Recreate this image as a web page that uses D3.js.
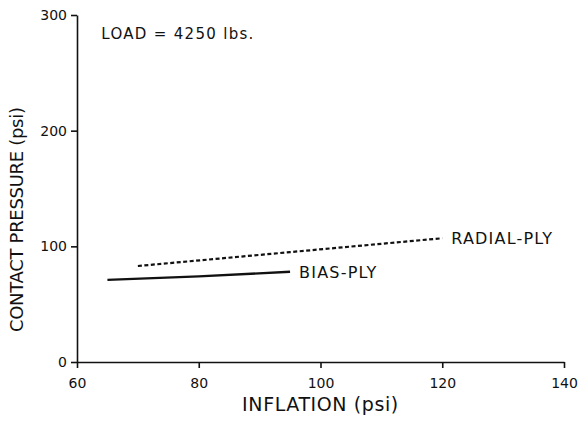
<!DOCTYPE html>
<html>
<head>
<meta charset="utf-8">
<script src="https://cdn.jsdelivr.net/npm/d3@7"></script>
<style>
  body { margin: 0; background: #fff; }
  text { font-family: "DejaVu Sans", "Liberation Sans", sans-serif; fill: #111; }
  .axis path, .axis line { stroke: #111; stroke-width: 1.6px; }
</style>
</head>
<body>
<div id="chart"></div>
<script>
// values
var inflationTicks = [60, 80, 100, 120, 140];
var pressureTicks = [0, 100, 200, 300];
var biasPly = [[65, 71], [80, 74], [95, 78]];
var radialPly = [[70, 83], [95, 95], [120, 107]];
var seriesNames = ["BIAS-PLY", "RADIAL-PLY"];
var loadNote = "LOAD = 4250 lbs.";

var W = 578, H = 421;
var margin = {top: 15, right: 14, bottom: 59, left: 77};

var svg = d3.select("#chart").append("svg")
    .attr("width", W)
    .attr("height", H);

var x = d3.scaleLinear().domain([60, 140]).range([margin.left, W - margin.right]);
var y = d3.scaleLinear().domain([0, 300]).range([H - margin.bottom, margin.top]);

// x axis
svg.append("g")
    .attr("class", "axis")
    .attr("transform", "translate(0," + y(0) + ")")
    .call(d3.axisBottom(x).tickValues(inflationTicks).tickSize(6).tickSizeOuter(0))
    .call(function(g){
      g.selectAll("text").style("font-size", "14px").attr("y", 12).attr("dy", "1em");
    });

// y axis
svg.append("g")
    .attr("class", "axis")
    .attr("transform", "translate(" + x(60) + ",0)")
    .call(d3.axisLeft(y).tickValues(pressureTicks).tickSize(6).tickSizeOuter(0))
    .call(function(g){
      g.selectAll("text").style("font-size", "14px").attr("x", -10);
    });

// axis titles
svg.append("text")
    .attr("x", (x(60) + x(140)) / 2)
    .attr("y", 411)
    .attr("text-anchor", "middle")
    .style("font-size", "19px")
    .style("letter-spacing", "0.6px")
    .text("INFLATION (psi)");

svg.append("text")
    .attr("transform", "translate(23," + y(123) + ") rotate(-90)")
    .attr("text-anchor", "middle")
    .style("font-size", "18px")
    .style("letter-spacing", "-0.3px")
    .text("CONTACT PRESSURE (psi)");

// load annotation
svg.append("text")
    .attr("x", x(64))
    .attr("y", y(279))
    .style("font-size", "15px")
    .style("letter-spacing", "1.3px")
    .text(loadNote);

var line = d3.line()
    .x(function(d){ return x(d[0]); })
    .y(function(d){ return y(d[1]); });

svg.append("path")
    .datum(biasPly)
    .attr("d", line)
    .attr("fill", "none")
    .attr("stroke", "#111")
    .attr("stroke-width", 2.4);

svg.append("path")
    .datum(radialPly)
    .attr("d", line)
    .attr("fill", "none")
    .attr("stroke", "#111")
    .attr("stroke-width", 2.2)
    .attr("stroke-dasharray", "4,2.5");

// series labels beside line ends
var ends = [biasPly[biasPly.length - 1], radialPly[radialPly.length - 1]];
svg.selectAll(".series-label")
    .data(ends)
    .enter()
    .append("text")
    .attr("class", "series-label")
    .attr("x", function(d){ return x(d[0]) + 9; })
    .attr("y", function(d){ return y(d[1]) + 6; })
    .style("font-size", "16px")
    .style("letter-spacing", "1.2px")
    .text(function(d, i){ return seriesNames[i]; });
</script>
</body>
</html>
